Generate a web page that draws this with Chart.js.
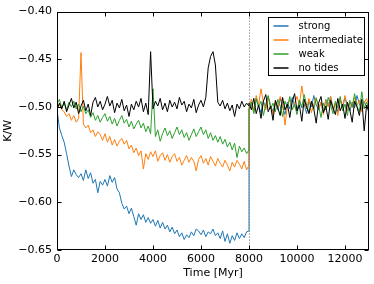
<!DOCTYPE html>
<html>
<head>
<meta charset="utf-8">
<script src="https://cdn.jsdelivr.net/npm/chart.js@4.4.1/dist/chart.umd.min.js"></script>
<style>
html,body{margin:0;padding:0;background:#fff;}
canvas{display:block;}
</style>
</head>
<body>
<canvas id="c" width="374" height="284"></canvas>
<script>
// Time axis [Myr]; 8000 appears twice: state just before and just after the reset
const times = [
  0,100,200,300,400,500,600,700,800,900,
  1000,1100,1200,1300,1400,1500,1600,1700,1800,1900,
  2000,2100,2200,2300,2400,2500,2600,2700,2800,2900,
  3000,3100,3200,3300,3400,3500,3600,3700,3800,3900,
  4000,4100,4200,4300,4400,4500,4600,4700,4800,4900,
  5000,5100,5200,5300,5400,5500,5600,5700,5800,5900,
  6000,6100,6200,6300,6400,6500,6600,6700,6800,6900,
  7000,7100,7200,7300,7400,7500,7600,7700,7800,7900,
  8000,
  8000,
  8100,8200,8300,8400,8500,8600,8700,8800,8900,9000,
  9100,9200,9300,9400,9500,9600,9700,9800,9900,10000,
  10100,10200,10300,10400,10500,10600,10700,10800,10900,11000,
  11100,11200,11300,11400,11500,11600,11700,11800,11900,12000,
  12100,12200,12300,12400,12500,12600,12700,12800,12900,13000
];

const strong = [
  -0.503,-0.522,-0.530,-0.537,-0.549,-0.562,-0.573,-0.566,-0.571,-0.574,
  -0.570,-0.577,-0.566,-0.575,-0.569,-0.580,-0.576,-0.590,-0.578,-0.582,
  -0.576,-0.583,-0.572,-0.579,-0.574,-0.586,-0.590,-0.601,-0.607,-0.604,
  -0.612,-0.606,-0.615,-0.624,-0.612,-0.618,-0.613,-0.621,-0.616,-0.622,
  -0.618,-0.625,-0.619,-0.627,-0.621,-0.628,-0.624,-0.631,-0.626,-0.633,
  -0.629,-0.636,-0.632,-0.639,-0.634,-0.637,-0.631,-0.635,-0.628,-0.630,
  -0.634,-0.629,-0.636,-0.631,-0.633,-0.628,-0.635,-0.632,-0.638,-0.630,
  -0.641,-0.633,-0.643,-0.635,-0.640,-0.632,-0.638,-0.633,-0.637,-0.631,
  -0.630,
  -0.502,
  -0.495,-0.504,-0.492,-0.499,-0.506,-0.494,-0.501,-0.489,-0.498,-0.505,
  -0.496,-0.503,-0.491,-0.500,-0.508,-0.495,-0.502,-0.490,-0.499,-0.504,
  -0.493,-0.501,-0.497,-0.507,-0.494,-0.500,-0.488,-0.498,-0.503,-0.495,
  -0.506,-0.492,-0.499,-0.489,-0.502,-0.496,-0.505,-0.493,-0.500,-0.490,
  -0.498,-0.504,-0.495,-0.501,-0.488,-0.497,-0.503,-0.494,-0.500,-0.496
];

const intermediate = [
  -0.500,-0.497,-0.503,-0.505,-0.510,-0.507,-0.514,-0.509,-0.516,-0.512,
  -0.443,-0.518,-0.522,-0.519,-0.527,-0.524,-0.531,-0.526,-0.529,-0.535,
  -0.528,-0.537,-0.531,-0.540,-0.534,-0.541,-0.536,-0.533,-0.539,-0.535,
  -0.544,-0.540,-0.548,-0.543,-0.551,-0.546,-0.565,-0.549,-0.555,-0.547,
  -0.552,-0.546,-0.557,-0.551,-0.548,-0.556,-0.550,-0.558,-0.552,-0.549,
  -0.557,-0.553,-0.561,-0.556,-0.551,-0.558,-0.553,-0.557,-0.567,-0.555,
  -0.551,-0.559,-0.554,-0.561,-0.552,-0.557,-0.562,-0.554,-0.559,-0.563,
  -0.556,-0.561,-0.567,-0.558,-0.563,-0.556,-0.560,-0.565,-0.557,-0.566,
  -0.561,
  -0.500,
  -0.492,-0.505,-0.488,-0.498,-0.481,-0.495,-0.503,-0.490,-0.499,-0.508,
  -0.494,-0.501,-0.489,-0.497,-0.519,-0.499,-0.492,-0.503,-0.496,-0.489,
  -0.498,-0.478,-0.494,-0.502,-0.491,-0.506,-0.497,-0.490,-0.502,-0.495,
  -0.508,-0.493,-0.500,-0.489,-0.503,-0.496,-0.509,-0.492,-0.499,-0.488,
  -0.504,-0.495,-0.501,-0.490,-0.498,-0.493,-0.505,-0.496,-0.491,-0.500
];

const weak = [
  -0.497,-0.492,-0.501,-0.496,-0.503,-0.495,-0.500,-0.494,-0.502,-0.497,
  -0.505,-0.499,-0.507,-0.503,-0.511,-0.506,-0.514,-0.509,-0.516,-0.511,
  -0.507,-0.515,-0.510,-0.518,-0.512,-0.520,-0.514,-0.509,-0.517,-0.513,
  -0.521,-0.515,-0.523,-0.518,-0.514,-0.522,-0.517,-0.526,-0.520,-0.528,
  -0.481,-0.531,-0.524,-0.536,-0.528,-0.522,-0.530,-0.525,-0.533,-0.527,
  -0.521,-0.529,-0.524,-0.532,-0.527,-0.535,-0.529,-0.523,-0.531,-0.526,
  -0.521,-0.529,-0.524,-0.533,-0.527,-0.535,-0.530,-0.537,-0.531,-0.539,
  -0.534,-0.542,-0.537,-0.545,-0.538,-0.553,-0.541,-0.547,-0.543,-0.549,
  -0.545,
  -0.503,
  -0.495,-0.507,-0.491,-0.500,-0.494,-0.509,-0.497,-0.488,-0.502,-0.496,
  -0.505,-0.492,-0.499,-0.510,-0.494,-0.501,-0.489,-0.503,-0.497,-0.508,
  -0.493,-0.500,-0.487,-0.498,-0.506,-0.495,-0.502,-0.491,-0.499,-0.511,
  -0.496,-0.503,-0.490,-0.498,-0.507,-0.494,-0.501,-0.489,-0.504,-0.497,
  -0.509,-0.493,-0.500,-0.486,-0.499,-0.505,-0.484,-0.502,-0.495,-0.501
];

const noTides = [
  -0.503,-0.496,-0.502,-0.494,-0.505,-0.498,-0.491,-0.501,-0.495,-0.507,
  -0.499,-0.493,-0.504,-0.497,-0.509,-0.495,-0.490,-0.500,-0.494,-0.503,
  -0.497,-0.489,-0.499,-0.493,-0.506,-0.496,-0.501,-0.492,-0.504,-0.498,
  -0.510,-0.497,-0.503,-0.494,-0.500,-0.491,-0.505,-0.496,-0.508,-0.442,
  -0.502,-0.494,-0.499,-0.491,-0.503,-0.496,-0.505,-0.493,-0.500,-0.495,
  -0.502,-0.490,-0.498,-0.494,-0.505,-0.497,-0.501,-0.492,-0.506,-0.498,
  -0.493,-0.500,-0.490,-0.459,-0.447,-0.442,-0.456,-0.495,-0.499,-0.493,
  -0.502,-0.496,-0.504,-0.498,-0.510,-0.497,-0.502,-0.494,-0.500,-0.496,
  -0.499,
  -0.496,
  -0.503,-0.491,-0.507,-0.498,-0.512,-0.494,-0.487,-0.505,-0.499,-0.514,
  -0.493,-0.501,-0.509,-0.490,-0.503,-0.497,-0.511,-0.495,-0.486,-0.504,
  -0.498,-0.515,-0.492,-0.500,-0.507,-0.494,-0.502,-0.517,-0.496,-0.489,
  -0.506,-0.499,-0.513,-0.493,-0.501,-0.508,-0.491,-0.504,-0.497,-0.512,
  -0.495,-0.503,-0.516,-0.494,-0.500,-0.509,-0.492,-0.525,-0.498,-0.506
];

const seriesLabels = ['strong', 'intermediate', 'weak', 'no tides'];
const xTickValues = [0, 2000, 4000, 6000, 8000, 10000, 12000];
const yTickValues = [-0.65, -0.60, -0.55, -0.50, -0.45, -0.40];
const resetTime = 8000;

const colors = ['#1f77b4', '#ff7f0e', '#2ca02c', '#000000'];
const allSeries = [strong, intermediate, weak, noTides];
const FONT = '"DejaVu Sans", "Liberation Sans", sans-serif';

const datasets = allSeries.map((vals, i) => ({
  label: seriesLabels[i],
  data: vals.map((v, k) => ({ x: times[k], y: v })),
  borderColor: colors[i],
  backgroundColor: colors[i],
  borderWidth: 1,
  pointRadius: 0,
  fill: false,
  tension: 0,
  order: allSeries.length - i
}));

function line(ctx, x1, y1, x2, y2) {
  ctx.beginPath(); ctx.moveTo(x1, y1); ctx.lineTo(x2, y2); ctx.stroke();
}

const decorPlugin = {
  id: 'decor',
  afterDatasetsDraw(chart) {
    const { ctx, chartArea: a, scales: { x, y } } = chart;
    ctx.save();
    // dotted vertical line at reset time
    const px = Math.round(x.getPixelForValue(resetTime)) + 0.5;
    ctx.strokeStyle = '#666';
    ctx.lineWidth = 1;
    ctx.setLineDash([1, 2]);
    line(ctx, px, a.top, px, a.bottom);
    ctx.setLineDash([]);
    // frame
    ctx.strokeStyle = '#000';
    const L = Math.round(a.left) + 0.5, R = Math.round(a.right) - 0.5;
    const T = Math.round(a.top) + 0.5, B = Math.round(a.bottom) - 0.5;
    ctx.strokeRect(L, T, R - L, B - T);
    // inward ticks on all sides
    const tl = 4;
    x.ticks.forEach(t => {
      const p = Math.round(x.getPixelForValue(t.value)) + 0.5;
      line(ctx, p, B, p, B - tl);
      line(ctx, p, T, p, T + tl);
    });
    y.ticks.forEach(t => {
      const p = Math.round(y.getPixelForValue(t.value)) + 0.5;
      line(ctx, L, p, L + tl, p);
      line(ctx, R, p, R - tl, p);
    });
    // legend
    const bx = Math.round(a.right) - 101 + 0.5, by = Math.round(a.top) + 5 + 0.5;
    const bw = 96, bh = 58;
    ctx.fillStyle = '#fff';
    ctx.fillRect(bx, by, bw, bh);
    ctx.strokeStyle = '#000';
    ctx.strokeRect(bx, by, bw, bh);
    ctx.font = '10px ' + FONT;
    ctx.textBaseline = 'middle';
    ctx.textAlign = 'left';
    chart.data.datasets.forEach((ds, i) => {
      const yy = by + 8.5 + i * 14;
      ctx.strokeStyle = ds.borderColor;
      ctx.lineWidth = 1.5;
      line(ctx, bx + 5, yy, bx + 20, yy);
      ctx.fillStyle = '#000';
      ctx.fillText(ds.label, bx + 30, yy);
    });
    ctx.restore();
  }
};

new Chart(document.getElementById('c'), {
  type: 'line',
  data: { datasets },
  options: {
    responsive: false,
    devicePixelRatio: 1,
    animation: false,
    layout: { padding: { left: 0, right: 5, top: 9, bottom: 0 } },
    plugins: { legend: { display: false }, tooltip: { enabled: false } },
    scales: {
      x: {
        type: 'linear',
        min: 0, max: 13000,
        grid: { display: false, drawTicks: false },
        border: { display: false },
        afterBuildTicks: s => { s.ticks = xTickValues.map(v => ({ value: v })); },
        afterFit: s => { s.height = 34; },
        ticks: {
          color: '#000', padding: 3, maxRotation: 0,
          font: { family: FONT, size: 11 },
          callback: v => String(v)
        },
        title: {
          display: true, text: 'Time [Myr]', color: '#000',
          font: { family: FONT, size: 11 },
          padding: { top: 0, bottom: 4 }
        }
      },
      y: {
        type: 'linear',
        min: -0.65, max: -0.40,
        grid: { display: false, drawTicks: false },
        border: { display: false },
        afterBuildTicks: s => { s.ticks = yTickValues.map(v => ({ value: v })); },
        afterFit: s => { s.width = 57; },
        ticks: {
          color: '#000', padding: 5,
          font: { family: FONT, size: 11 },
          callback: v => (v < 0 ? '\u2212' : '') + Math.abs(v).toFixed(2)
        },
        title: {
          display: true, text: 'K/W', color: '#000',
          font: { family: FONT, size: 11 },
          padding: { top: 2, bottom: 0 }
        }
      }
    }
  },
  plugins: [decorPlugin]
});
</script>
</body>
</html>
